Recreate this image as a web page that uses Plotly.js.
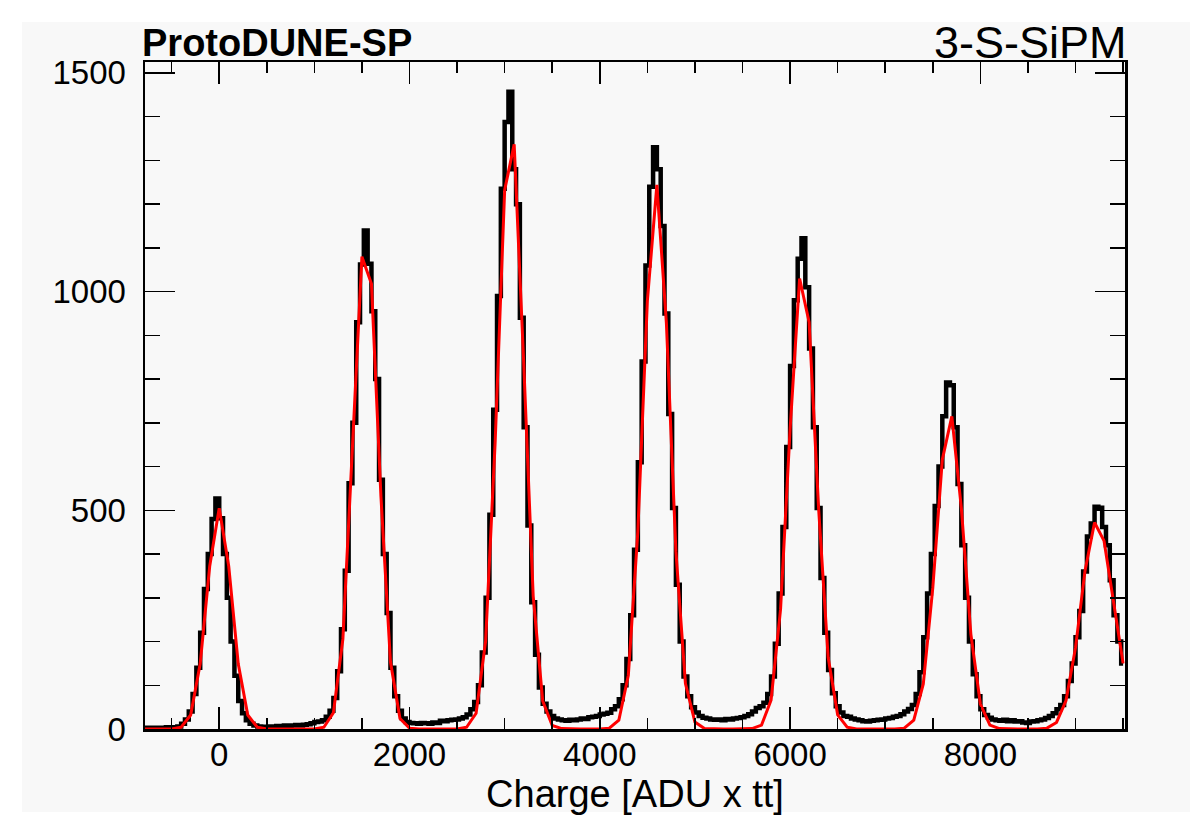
<!DOCTYPE html>
<html><head><meta charset="utf-8">
<script src="https://cdn.plot.ly/plotly-3.0.1.min.js"></script>
<style>
html,body{margin:0;padding:0;background:#ffffff;}
#bg{position:absolute;left:22px;top:22px;width:1168px;height:790px;background:#f8f8f8;}
#plot{position:absolute;left:0;top:0;width:1195px;height:815px;}
</style></head><body>
<div id="bg"></div><div id="plot"></div>
<script>
// Histogram: bin centres start at -780, width 40
const binStart = -780;
const binWidth = 40;
const counts = [
  2, 3, 2, 3, 3, 2, 4, 3, 4, 6,                 // -780 .. -420
  12, 22, 40, 80, 140, 220, 320, 400, 480, 527, // -380 .. -20
  482, 400, 300, 200, 122, 64, 36, 20, 12, 8,   // 20 .. 380
  6, 5, 5, 6, 5, 7, 6, 8, 7, 8,                 // 420 .. 780
  9, 8, 10, 11, 13, 16, 17, 20, 28, 42,         // 820 .. 1180
  71, 132, 228, 362, 562, 700, 930, 1062, 1140, 1064, // 1220 .. 1580
  955, 800, 570, 400, 265, 140, 75, 42, 24, 16, // 1620 .. 1980
  14, 13, 12, 14, 13, 12, 15, 14, 19, 18,       // 2020 .. 2380
  20, 21, 22, 24, 27, 33, 45, 62, 100, 175,     // 2420 .. 2780
  300, 490, 730, 990, 1235, 1388, 1457, 1280, 1200, 940, // 2820 .. 3180
  690, 465, 290, 170, 95, 58, 40, 30, 24, 22,   // 3220 .. 3580
  20, 19, 21, 20, 22, 24, 23, 27, 28, 30,       // 3620 .. 3980
  33, 35, 37, 45, 52, 68, 100, 160, 260, 410,   // 4020 .. 4380
  610, 840, 1060, 1240, 1330, 1280, 1150, 950, 720, 505, // 4420 .. 4780
  330, 200, 120, 75, 50, 38, 30, 26, 24, 22,    // 4820 .. 5180
  21, 22, 20, 23, 22, 24, 25, 27, 30, 34,       // 5220 .. 5580
  40, 48, 52, 60, 80, 120, 195, 310, 462, 645,  // 5620 .. 5980
  830, 980, 1075, 1122, 1010, 870, 690, 505, 345, 220, // 6020 .. 6380
  135, 82, 52, 38, 30, 28, 24, 22, 20, 18,      // 6420 .. 6780
  17, 19, 20, 21, 22, 24, 25, 28, 30, 34,       // 6820 .. 7180
  40, 46, 55, 80, 130, 210, 310, 400, 510, 600, // 7220 .. 7580
  715, 792, 786, 690, 560, 420, 300, 200, 125, 75, // 7620 .. 7980
  45, 32, 26, 22, 20, 19, 21, 18, 20, 17,       // 8020 .. 8380
  18, 15, 14, 17, 18, 20, 22, 25, 30, 36,       // 8420 .. 8780
  45, 55, 75, 110, 150, 210, 270, 360, 440, 470, // 8820 .. 9180
  508, 506, 462, 420, 340, 260, 200, 150         // 9220 .. 9500
];

// Fit curve sampled every 100 from -800
const fitStart = -800;
const fitStep = 100;
const fitValues = [
  0, 0, 0, 0, 4, 32, 149, 372, 505, 372,        // -800 .. 100
  149, 32, 4, 0, 0, 0, 0, 0, 0, 4,              // 200 .. 1100
  37, 206, 634, 1080, 1018, 531, 153, 24, 2, 0, // 1200 .. 2100
  0, 0, 0, 0, 4, 36, 201, 655, 1232, 1337,      // 2200 .. 3100
  839, 304, 64, 8, 1, 0, 0, 0, 0, 2,            // 3200 .. 4100
  20, 123, 452, 979, 1244, 928, 406, 104, 16, 1, // 4200 .. 5100
  0, 0, 0, 0, 1, 9, 66, 274, 685, 1030,         // 5200 .. 6100
  930, 504, 164, 32, 4, 0, 0, 0, 0, 0,          // 6200 .. 7100
  2, 20, 103, 323, 616, 715, 505, 217, 57, 9,   // 7200 .. 8100
  1, 0, 0, 0, 0, 2, 15, 65, 186, 362,           // 8200 .. 9100
  472, 430, 290, 150                            // 9200 .. 9500
];

const xTickVals = [0, 2000, 4000, 6000, 8000];
const yTickVals = [0, 500, 1000, 1500];

const binCentres = counts.map((_, i) => binStart + i * binWidth);
const fitX = fitValues.map((_, i) => fitStart + i * fitStep);

const FONT = 'Liberation Sans, Arial, Helvetica, sans-serif';

const traces = [
  {x: binCentres, y: counts, type: 'scatter', mode: 'lines',
   line: {color: '#000000', width: 4.5, shape: 'hvh'}, hoverinfo: 'x+y'},
  {x: fitX, y: fitValues, type: 'scatter', mode: 'lines',
   line: {color: '#ff0000', width: 3, shape: 'linear'}, hoverinfo: 'x+y'}
];

const layout = {
  width: 1195, height: 815,
  margin: {l: 145, r: 70, t: 62, b: 86},
  paper_bgcolor: 'rgba(0,0,0,0)',
  plot_bgcolor: 'rgba(0,0,0,0)',
  showlegend: false,
  font: {family: FONT, color: '#000'},
  xaxis: {
    range: [-780, 9520],
    showline: true, linecolor: '#000', linewidth: 2.5, mirror: 'allticks',
    ticks: 'inside', ticklen: 22, tickwidth: 1.5, tickcolor: '#000',
    tickvals: xTickVals, ticktext: xTickVals.map(String),
    minor: {dtick: 500, tick0: 0, ticks: 'inside', ticklen: 11, tickwidth: 1.5, tickcolor: '#000', showgrid: false},
    showgrid: false, zeroline: false,
    tickfont: {family: FONT, size: 33, color: '#000'},
    ticklabelstandoff: -5,
    title: {text: 'Charge [ADU x tt]', font: {family: FONT, size: 38, color: '#000'}, standoff: 12}
  },
  yaxis: {
    range: [0, 1525],
    showline: true, linecolor: '#000', linewidth: 2.5, mirror: 'allticks',
    ticks: 'inside', ticklen: 30, tickwidth: 1.5, tickcolor: '#000',
    tickvals: yTickVals, ticktext: yTickVals.map(String),
    minor: {dtick: 100, tick0: 0, ticks: 'inside', ticklen: 15, tickwidth: 1.5, tickcolor: '#000', showgrid: false},
    showgrid: false, zeroline: false,
    tickfont: {family: FONT, size: 33, color: '#000'},
    ticklabelstandoff: 10
  },
  annotations: [
    {text: '<b>ProtoDUNE-SP</b>', xref: 'paper', yref: 'paper', x: -0.005, y: 1.0292,
     xanchor: 'left', yanchor: 'middle', showarrow: false,
     font: {family: FONT, size: 38, color: '#000'}},
    {text: '3-S-SiPM', xref: 'paper', yref: 'paper', x: 1.004, y: 1.0292,
     xanchor: 'right', yanchor: 'middle', showarrow: false,
     font: {family: FONT, size: 45, color: '#000'}}
  ]
};

Plotly.newPlot('plot', traces, layout, {displayModeBar: false, staticPlot: true});
</script>
</body></html>
